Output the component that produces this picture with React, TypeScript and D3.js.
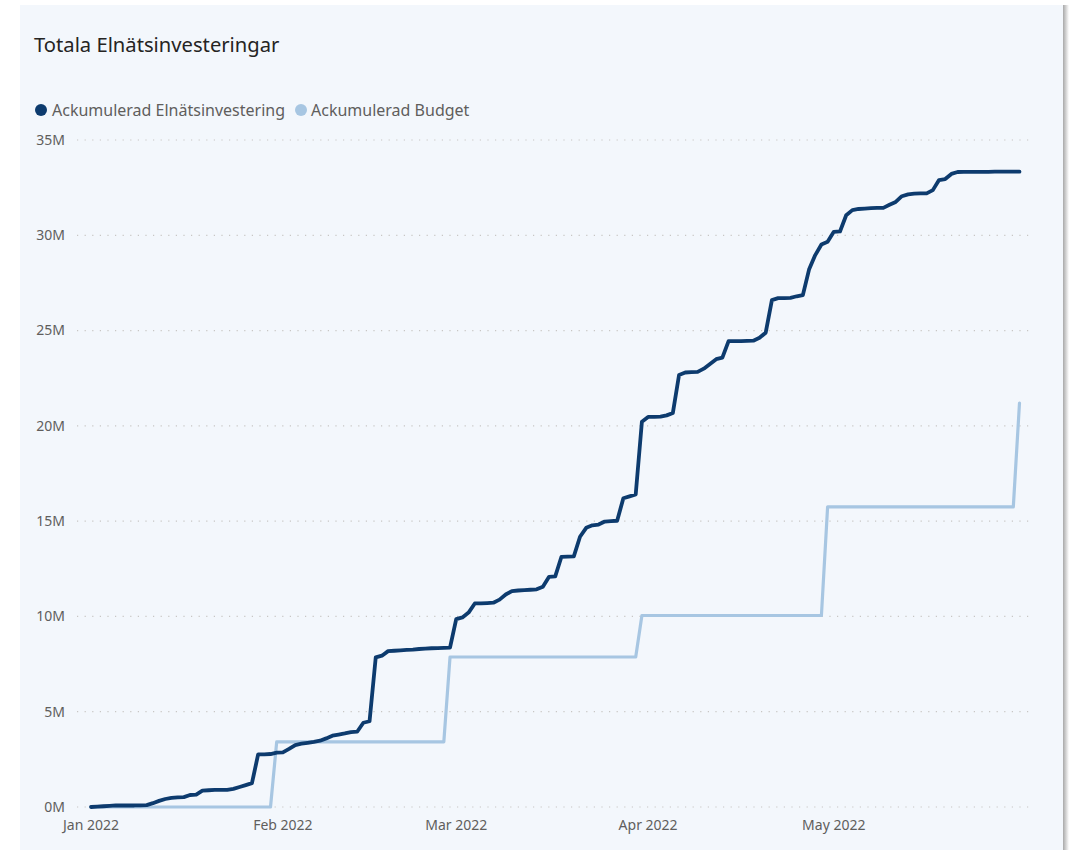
import React from "react";
import * as d3 from "d3";

const titleText = "Totala Elnätsinvesteringar";
const seriesNames = ["Ackumulerad Elnätsinvestering", "Ackumulerad Budget"];
const yTickValues = [0, 5, 10, 15, 20, 25, 30, 35];
const monthTicks = ["2022-01-01", "2022-02-01", "2022-03-01", "2022-04-01", "2022-05-01"];

// Cumulative investment (M SEK), one value per day
const janValues = [0, 0.02, 0.04, 0.06, 0.08, 0.08, 0.08, 0.08, 0.09, 0.1, 0.2, 0.32, 0.42, 0.48, 0.5, 0.52, 0.63, 0.65, 0.86, 0.88, 0.9, 0.9, 0.9, 0.95, 1.05, 1.15, 1.25, 2.76, 2.76, 2.78, 2.85];
const febValues = [2.87, 3.05, 3.25, 3.32, 3.37, 3.42, 3.48, 3.6, 3.74, 3.8, 3.86, 3.93, 3.95, 4.42, 4.5, 7.85, 7.94, 8.18, 8.2, 8.22, 8.24, 8.26, 8.29, 8.31, 8.33, 8.34, 8.35, 8.36];
const marValues = [9.86, 9.95, 10.2, 10.68, 10.68, 10.7, 10.72, 10.88, 11.15, 11.33, 11.36, 11.38, 11.4, 11.42, 11.56, 12.08, 12.1, 13.13, 13.14, 13.15, 14.18, 14.65, 14.78, 14.82, 14.98, 15.0, 15.02, 16.2, 16.3, 16.4, 20.22];
const aprValues = [20.47, 20.47, 20.48, 20.55, 20.68, 22.67, 22.8, 22.82, 22.83, 23.0, 23.25, 23.5, 23.58, 24.45, 24.45, 24.45, 24.46, 24.47, 24.62, 24.89, 26.6, 26.7, 26.7, 26.72, 26.8, 26.86, 28.2, 28.96, 29.52, 29.66];
const mayValues = [30.18, 30.2, 31.05, 31.32, 31.38, 31.4, 31.42, 31.44, 31.44, 31.6, 31.75, 32.05, 32.15, 32.19, 32.2, 32.2, 32.37, 32.9, 32.95, 33.22, 33.32, 33.33, 33.33, 33.33, 33.33, 33.33, 33.34, 33.34, 33.34, 33.34, 33.34];

// Cumulative budget (M SEK), break points
const budgetDates = ["2022-01-01", "2022-01-30", "2022-01-31", "2022-02-27", "2022-02-28", "2022-03-30", "2022-03-31", "2022-04-29", "2022-04-30", "2022-05-30", "2022-05-31"];
const budgetValues = [0, 0, 3.42, 3.42, 7.87, 7.87, 10.05, 10.05, 15.75, 15.75, 21.2];

const parse = d3.timeParse("%Y-%m-%d");

const investment = (() => {
  const all = [...janValues, ...febValues, ...marValues, ...aprValues, ...mayValues];
  const start = parse("2022-01-01") as Date;
  return all.map((v, i) => ({ date: d3.timeDay.offset(start, i), value: v }));
})();
const budget = budgetDates.map((d, i) => ({ date: parse(d) as Date, value: budgetValues[i] }));

const DARK = "#0d3b6e";
const LIGHT = "#a7c6e2";
const FONT = "'Segoe UI', 'Noto Sans', 'Open Sans', sans-serif";

export default function App() {
  const W = 1071, H = 850;
  const x = d3.scaleTime().domain([parse("2022-01-01") as Date, parse("2022-05-31") as Date]).range([91, 1019.5]);
  const y = d3.scaleLinear().domain([0, 35]).range([807, 140]);
  const line = d3.line<{ date: Date; value: number }>().x(d => x(d.date)).y(d => y(d.value));
  const fmtMonth = d3.timeFormat("%b %Y");

  return (
    <div style={{ position: "absolute", left: 0, top: 0 }}>
      <svg width={W} height={H} style={{ display: "block", fontFamily: FONT }}>
        <defs>
          <linearGradient id="shadow" x1="0" x2="1" y1="0" y2="0">
            <stop offset="0" stopColor="#9a9a9a" />
            <stop offset="1" stopColor="#ffffff" />
          </linearGradient>
        </defs>
        <rect x={0} y={0} width={W} height={H} fill="#ffffff" />
        <rect x={1062} y={5} width={7} height={H - 5} fill="url(#shadow)" />
        <rect x={20} y={5} width={1043} height={H - 5} fill="#f3f7fc" />
        <text x={34} y={52} fontSize={20.2} fill="#252423">{titleText}</text>

        <g>
          <circle cx={41} cy={110} r={6} fill={DARK} />
          <text x={52} y={115.5} fontSize={16} fill="#605e5c">{seriesNames[0]}</text>
          <circle cx={301} cy={110} r={6} fill={LIGHT} />
          <text x={311} y={115.5} fontSize={16} fill="#605e5c">{seriesNames[1]}</text>
        </g>

        <g>
          {yTickValues.map(t => (
            <g key={t}>
              <line x1={77} x2={1030} y1={y(t)} y2={y(t)} stroke="#c8c6c4" strokeWidth={1.2} strokeDasharray="1.2 6.4" />
              <text x={65} y={y(t)} dy="0.35em" textAnchor="end" fontSize={14} fill="#605e5c">{`${t}M`}</text>
            </g>
          ))}
        </g>

        <g>
          {monthTicks.map(m => {
            const d = parse(m) as Date;
            return (
              <text key={m} x={x(d)} y={830} textAnchor="middle" fontSize={14} fill="#605e5c">{fmtMonth(d)}</text>
            );
          })}
        </g>

        <path d={line(budget) || ""} fill="none" stroke={LIGHT} strokeWidth={3.2} strokeLinejoin="round" strokeLinecap="round" />
        <path d={line(investment) || ""} fill="none" stroke={DARK} strokeWidth={3.8} strokeLinejoin="round" strokeLinecap="round" />
      </svg>
    </div>
  );
}
